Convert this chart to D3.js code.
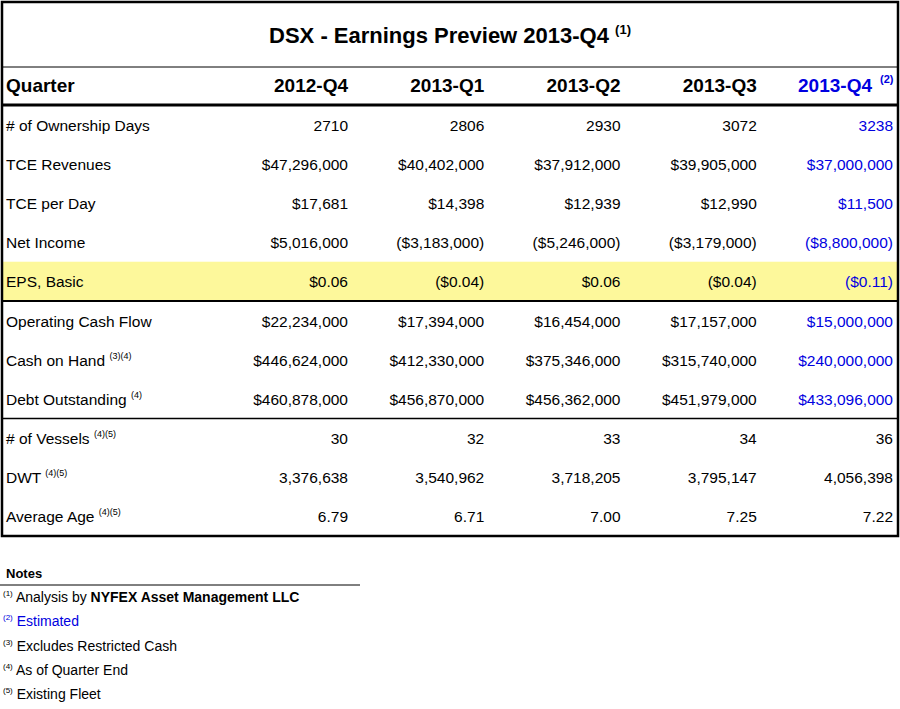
<!DOCTYPE html>
<html>
<head>
<meta charset="UTF-8">
<script src="https://d3js.org/d3.v7.min.js"></script>
<style>
  body { margin: 0; background: #fff; }
  text { font-family: "Liberation Sans", Arial, sans-serif; }
  .narrow { font-family: "Liberation Sans Narrow", "Liberation Sans", Arial, sans-serif; font-weight: bold; }
</style>
</head>
<body>
<svg id="chart" width="900" height="709"></svg>
<script>
// Daten
const quarters = ["2012-Q4", "2013-Q1", "2013-Q2", "2013-Q3", "2013-Q4"];
const rowLabels = ["# of Ownership Days", "TCE Revenues", "TCE per Day", "Net Income", "EPS, Basic",
  "Operating Cash Flow", "Cash on Hand", "Debt Outstanding", "# of Vessels", "DWT", "Average Age"];
const rowNotes = ["", "", "", "", "", "", "(3)(4)", "(4)", "(4)(5)", "(4)(5)", "(4)(5)"];
const ownershipDays = ["2710", "2806", "2930", "3072", "3238"];
const tceRevenues = ["$47,296,000", "$40,402,000", "$37,912,000", "$39,905,000", "$37,000,000"];
const tcePerDay = ["$17,681", "$14,398", "$12,939", "$12,990", "$11,500"];
const netIncome = ["$5,016,000", "($3,183,000)", "($5,246,000)", "($3,179,000)", "($8,800,000)"];
const epsBasic = ["$0.06", "($0.04)", "$0.06", "($0.04)", "($0.11)"];
const opCashFlow = ["$22,234,000", "$17,394,000", "$16,454,000", "$17,157,000", "$15,000,000"];
const cashOnHand = ["$446,624,000", "$412,330,000", "$375,346,000", "$315,740,000", "$240,000,000"];
const debtOutstanding = ["$460,878,000", "$456,870,000", "$456,362,000", "$451,979,000", "$433,096,000"];
const vessels = ["30", "32", "33", "34", "36"];
const dwt = ["3,376,638", "3,540,962", "3,718,205", "3,795,147", "4,056,398"];
const avgAge = ["6.79", "6.71", "7.00", "7.25", "7.22"];
const rowValues = [ownershipDays, tceRevenues, tcePerDay, netIncome, epsBasic,
  opCashFlow, cashOnHand, debtOutstanding, vessels, dwt, avgAge];
const blueUntil = 8; // rows after this are not estimated
const notes = [["(1)", "Analysis by ", "NYFEX Asset Management LLC"], ["(2)", "Estimated", ""],
  ["(3)", "Excludes Restricted Cash", ""], ["(4)", "As of Quarter End", ""], ["(5)", "Existing Fleet", ""]];

const svg = d3.select("#chart");
const blue = "#0000e0";
const L = 2, R = 898, T = 2;

const y = d3.scaleBand().domain(d3.range(rowLabels.length)).range([105, 536]);
const x = d3.scalePoint().domain(quarters).range([348, 893]);

// Gelbe Zeile
svg.append("rect").attr("x", L).attr("y", y(4)).attr("width", R - L).attr("height", y.bandwidth())
  .attr("fill", "#fdf89b");

// Titel
const title = svg.append("text").attr("x", 450).attr("y", 43).attr("text-anchor", "middle")
  .attr("class", "narrow").attr("font-size", 22);
title.append("tspan").text("DSX - Earnings Preview 2013-Q4 ");
title.append("tspan").attr("font-size", 13).attr("dy", -9).text("(1)");

// Kopfzeile
svg.append("text").attr("class", "narrow").attr("x", 6).attr("y", 92).attr("font-size", 19).text("Quarter");
quarters.forEach((q, i) => {
  const last = i === quarters.length - 1;
  const t = svg.append("text").attr("class", "narrow").attr("font-size", 19)
    .attr("y", 92).attr("x", last ? 872 : x(q)).attr("text-anchor", "end")
    .attr("fill", last ? blue : "#000").text(q);
  if (last) svg.append("text").attr("class", "narrow").attr("font-size", 11).attr("x", 880).attr("y", 83)
    .attr("fill", blue).text("(2)");
});

// Zeilen
rowLabels.forEach((lab, r) => {
  const cy = y(r) + y.bandwidth() / 2 + 6;
  const t = svg.append("text").attr("x", 6).attr("y", cy).attr("font-size", 15.5).text(lab + " ");
  if (rowNotes[r]) t.append("tspan").attr("font-size", 9).attr("dy", -7).text(rowNotes[r]);
  rowValues[r].forEach((v, i) => {
    svg.append("text").attr("x", x(quarters[i])).attr("y", cy).attr("text-anchor", "end")
      .attr("font-size", 15.5)
      .attr("fill", i === 4 && r < blueUntil ? blue : "#000").text(v);
  });
});

// Linien
const hline = (yy, w) => svg.append("line").attr("x1", L).attr("x2", R).attr("y1", yy).attr("y2", yy)
  .attr("stroke", "#000").attr("stroke-width", w);
hline(67, 1);
hline(y(0), 3);
hline(y(5), 2);
hline(y(8), 1.5);
svg.append("rect").attr("x", L).attr("y", T).attr("width", R - L).attr("height", 536 - T)
  .attr("fill", "none").attr("stroke", "#000").attr("stroke-width", 2.5);

// Notes
svg.append("text").attr("x", 6).attr("y", 578).attr("font-size", 13).attr("font-weight", "bold").text("Notes");
svg.append("line").attr("x1", 0).attr("x2", 360).attr("y1", 585).attr("y2", 585).attr("stroke", "#000");
notes.forEach((n, i) => {
  const t = svg.append("text").attr("x", 3).attr("y", 602 + i * 24.3).attr("font-size", 14)
    .attr("fill", i === 1 ? blue : "#000");
  t.append("tspan").attr("font-size", 8).attr("dy", -6).text(n[0]);
  t.append("tspan").attr("dy", 6).text(" " + n[1]);
  if (n[2]) t.append("tspan").attr("font-weight", "bold").text(n[2]);
});
</script>
</body>
</html>
